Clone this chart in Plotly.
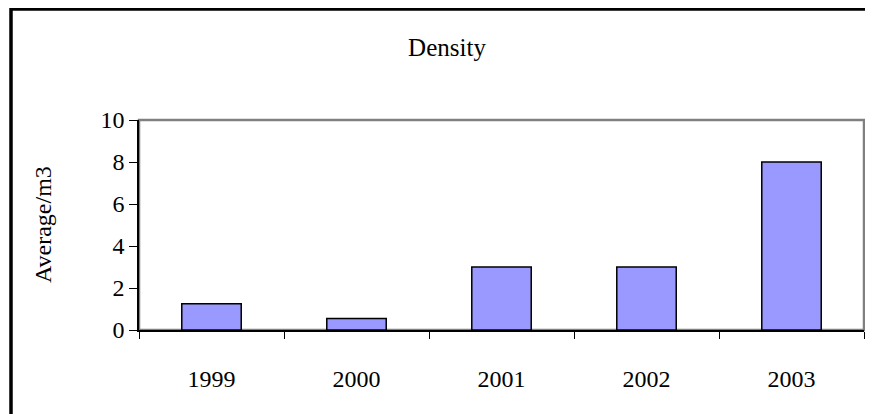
import plotly.graph_objects as go

years = ["1999", "2000", "2001", "2002", "2003"]
density = [1.25, 0.55, 3.0, 3.0, 8.0]

# the page body has an 8px margin, so the figure is drawn 8px up and left
W, H = 865, 406
L, R, T, B = 131, 9, 112, 84
pw, ph = W - L - R, H - T - B

font = dict(family="Liberation Serif, Times New Roman, serif", color="black")

fig = go.Figure(go.Bar(
    x=years, y=density, width=0.41,
    marker=dict(color="#9999FF", line=dict(color="black", width=1.5)),
))

# outer chart frame: only its left and top edges are on the page
fx = (3 - L) / pw
fy = (H - B - 1) / ph
fig.add_shape(type="line", xref="paper", yref="paper",
              x0=fx, x1=fx, y0=-1, y1=fy + 0.008,
              line=dict(color="black", width=3.5), layer="below")
fig.add_shape(type="line", xref="paper", yref="paper",
              x0=fx, x1=1.05, y0=fy, y1=fy,
              line=dict(color="black", width=3.5), layer="below")
# plot area border
fig.add_shape(type="rect", xref="paper", yref="paper",
              x0=0, x1=1, y0=0, y1=1,
              line=dict(color="#808080", width=2.5), layer="below")
# y axis title
fig.add_annotation(text="Average/m3", xref="paper", yref="paper",
                   x=(35 - L) / pw, y=0.5, textangle=-90, showarrow=False,
                   xanchor="center", yanchor="middle", font=dict(size=24, **font))

fig.update_layout(
    width=W, height=H,
    margin=dict(l=L, r=R, t=T, b=B),
    paper_bgcolor="white", plot_bgcolor="white",
    showlegend=False,
    font=dict(size=24, **font),
    title=dict(text="Density", x=439 / W, xref="container", xanchor="center",
               y=1 - 39 / H, yanchor="middle", font=dict(size=25, **font)),
)
fig.update_xaxes(
    type="category", tickson="boundaries", ticks="outside", ticklen=7,
    tickcolor="black", tickwidth=1.2, showline=True, linecolor="black",
    linewidth=1.5, showgrid=False, tickfont=dict(size=24, **font),
    ticklabelstandoff=26,
)
fig.update_yaxes(
    range=[0, 10], dtick=2, ticks="outside", ticklen=8, tickcolor="black",
    tickwidth=1.2, showline=True, linecolor="black", linewidth=1.5,
    showgrid=False, zeroline=False, tickfont=dict(size=24, **font),
)

fig.write_html("out.html")
